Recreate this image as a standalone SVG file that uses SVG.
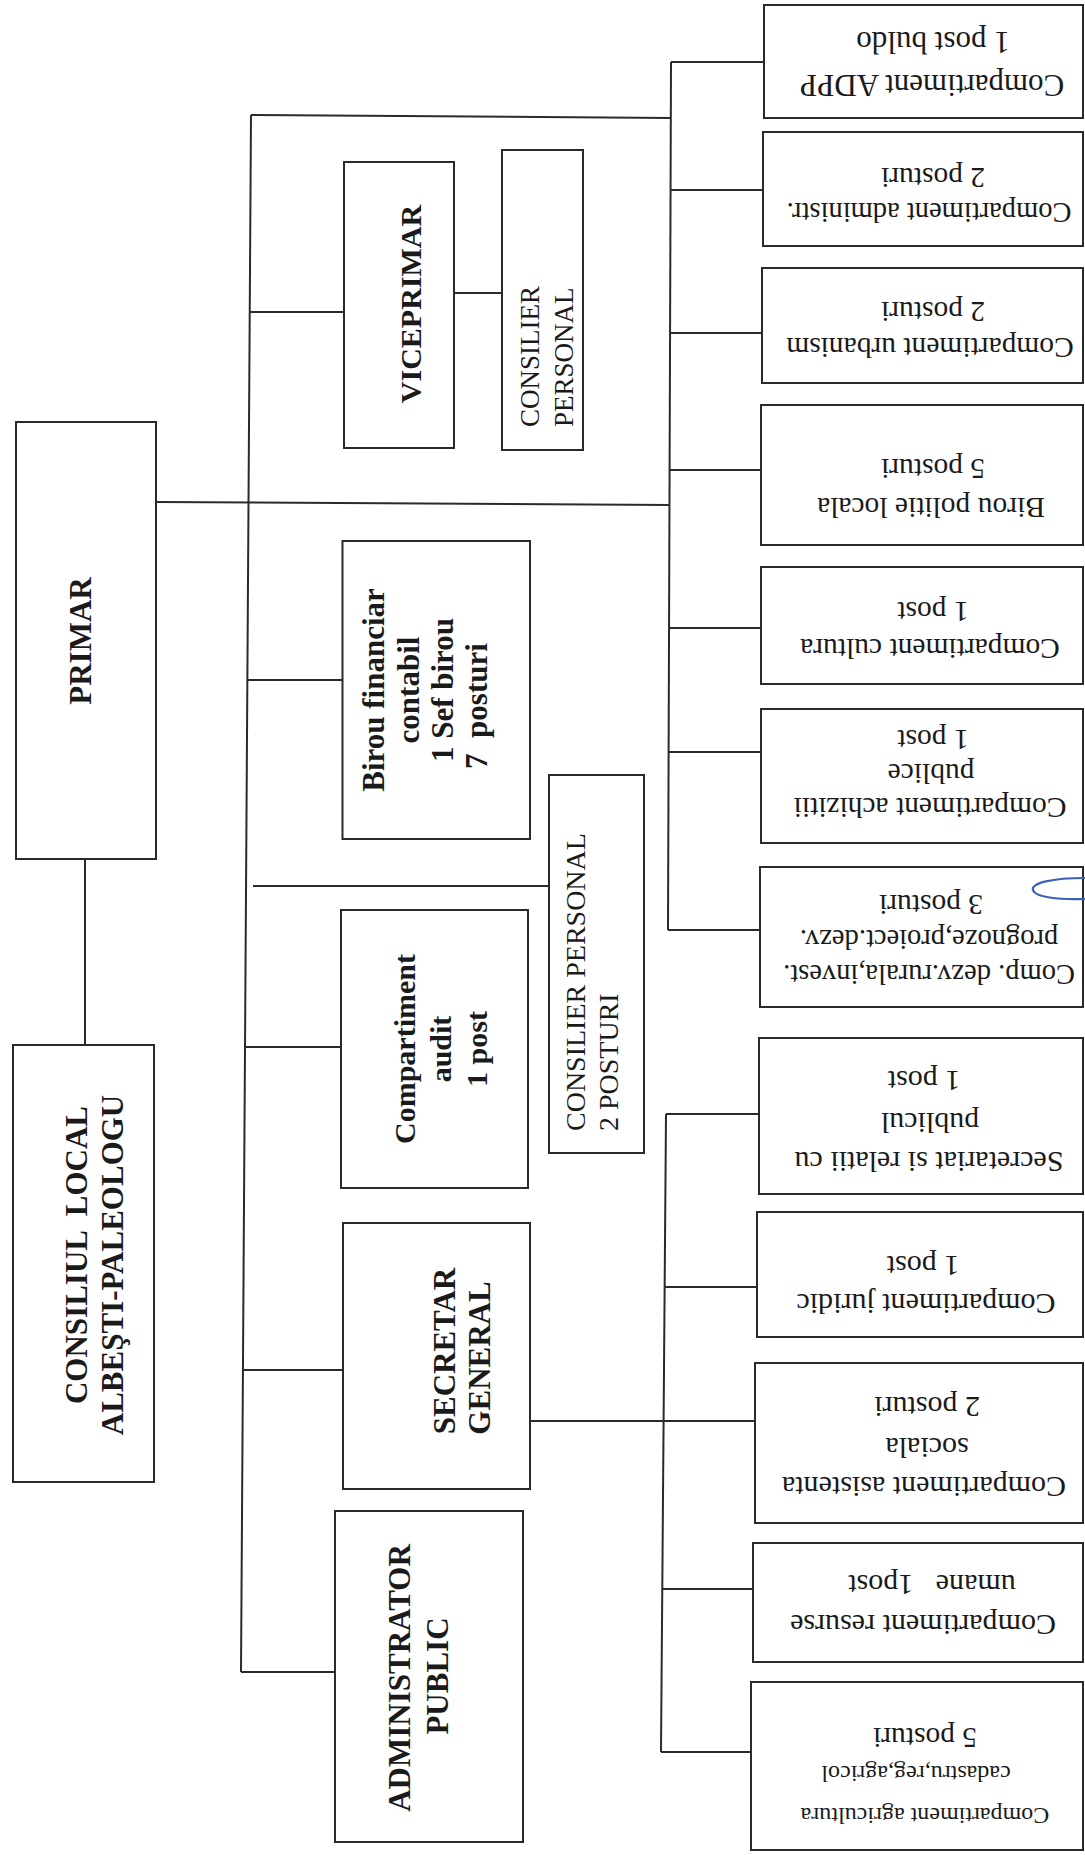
<svg xmlns="http://www.w3.org/2000/svg" width="1085" height="1855" viewBox="0 0 1085 1855">
<style>
.box{fill:#fff;stroke:#2a2a2a;stroke-width:2}
.ln{fill:none;stroke:#2a2a2a;stroke-width:2}
.b{font-family:"Liberation Serif","Times New Roman",serif;font-weight:bold;font-size:31px;fill:#1a1a1a;text-anchor:middle;white-space:pre}
.r{font-family:"Liberation Serif","Times New Roman",serif;font-size:29.5px;fill:#1a1a1a;text-anchor:middle;white-space:pre}
.cp{font-family:"Liberation Serif","Times New Roman",serif;font-size:27px;fill:#1a1a1a;text-anchor:start}
.ink{fill:none;stroke:#3a62b8;stroke-width:2.2}
</style>
<rect width="1085" height="1855" fill="#fff"/>

<g id="connectors">
<path class="ln" d="M251,115 L241,1672"/>
<path class="ln" d="M251,115 L671,118"/>
<path class="ln" d="M671,62 L668,930"/>
<path class="ln" d="M671,62 H764"/>
<path class="ln" d="M671,190 H763"/>
<path class="ln" d="M670,333 H762"/>
<path class="ln" d="M670,470 H761"/>
<path class="ln" d="M670,628 H761"/>
<path class="ln" d="M669,752 H761"/>
<path class="ln" d="M668,930 H760"/>
<path class="ln" d="M156,502 L670,505"/>
<path class="ln" d="M249.7,312 H344"/>
<path class="ln" d="M454,293 H502"/>
<path class="ln" d="M247.4,680 H342"/>
<path class="ln" d="M253,886 H549"/>
<path class="ln" d="M245,1047 H345"/>
<path class="ln" d="M243,1370 H343"/>
<path class="ln" d="M241,1672 H339"/>
<path class="ln" d="M85,859 V1045"/>
<path class="ln" d="M666,1114 L661,1752"/>
<path class="ln" d="M666,1114 H759"/>
<path class="ln" d="M665,1287 H757"/>
<path class="ln" d="M530,1421 H755"/>
<path class="ln" d="M662,1589 H753"/>
<path class="ln" d="M661,1752 H751"/>
</g>

<g id="primar">
<rect class="box" x="16" y="422" width="140" height="437"/>
<text class="b" x="91" y="641" transform="rotate(-90 91 641)">PRIMAR</text>
</g>
<g id="consiliul">
<rect class="box" x="13" y="1045" width="141" height="437"/>
<text class="b" x="87" y="1255" transform="rotate(-90 87 1255)">CONSILIUL  LOCAL</text>
<text class="b" x="122.6" y="1265" transform="rotate(-90 122.6 1265)">ALBEŞTI-PALEOLOGU</text>
</g>
<g id="viceprimar">
<rect class="box" x="344" y="162" width="110" height="286"/>
<text class="b" style="font-size:30px" x="420.6" y="304" transform="rotate(-90 420.6 304)">VICEPRIMAR</text>
</g>
<g id="consilier-personal-1">
<rect class="box" x="502" y="150" width="81" height="300"/>
<text class="cp" x="539" y="427" transform="rotate(-90 539 427)">CONSILIER</text>
<text class="cp" x="573" y="427" transform="rotate(-90 573 427)">PERSONAL</text>
</g>
<g id="birou-financiar">
<rect class="box" x="342.5" y="541" width="187.5" height="298"/>
<text class="b" x="384" y="690" transform="rotate(-90 384 690)">Birou financiar</text>
<text class="b" x="419" y="690" transform="rotate(-90 419 690)">contabil</text>
<text class="b" x="453" y="690" transform="rotate(-90 453 690)">1 Sef birou</text>
<text class="b" x="487" y="706" transform="rotate(-90 487 706)">7  posturi</text>
</g>
<g id="consilier-personal-2">
<rect class="box" x="549" y="775" width="95" height="378"/>
<text class="cp" style="font-size:28px" x="585" y="1131" transform="rotate(-90 585 1131)">CONSILIER PERSONAL</text>
<text class="cp" style="font-size:28px" x="618" y="1131" transform="rotate(-90 618 1131)">2 POSTURI</text>
</g>
<g id="audit">
<rect class="box" x="341" y="910" width="187" height="278"/>
<text class="b" style="font-size:30px" x="415" y="1049" transform="rotate(-90 415 1049)">Compartiment</text>
<text class="b" style="font-size:30px" x="451" y="1049" transform="rotate(-90 451 1049)">audit</text>
<text class="b" style="font-size:30px" x="487" y="1049" transform="rotate(-90 487 1049)">1 post</text>
</g>
<g id="secretar-general">
<rect class="box" x="343" y="1223" width="187" height="266"/>
<text class="b" x="455" y="1351" transform="rotate(-90 455 1351)">SECRETAR</text>
<text class="b" x="490" y="1358" transform="rotate(-90 490 1358)">GENERAL</text>
</g>
<g id="administrator-public">
<rect class="box" x="335" y="1511" width="188" height="331"/>
<text class="b" x="410" y="1678" transform="rotate(-90 410 1678)">ADMINISTRATOR</text>
<text class="b" x="448" y="1676" transform="rotate(-90 448 1676)">PUBLIC</text>
</g>

<g id="comp-adpp">
<rect class="box" x="764" y="5" width="319" height="113"/>
<text class="r" style="font-size:31px" x="932" y="75" transform="rotate(180 932 75)">Compartiment ADPP</text>
<text class="r" style="font-size:31px" x="933" y="32" transform="rotate(180 933 32)">1 post buldo</text>
</g>
<g id="comp-administr">
<rect class="box" x="763" y="132" width="320" height="114"/>
<text class="r" style="font-size:28.5px" x="929" y="203" transform="rotate(180 929 203)">Compartiment administr.</text>
<text class="r" x="933" y="168" transform="rotate(180 933 168)">2 posturi</text>
</g>
<g id="comp-urbanism">
<rect class="box" x="762" y="268" width="321" height="115"/>
<text class="r" x="930" y="338" transform="rotate(180 930 338)">Compartiment urbanism</text>
<text class="r" x="933" y="302" transform="rotate(180 933 302)">2 posturi</text>
</g>
<g id="birou-politie">
<rect class="box" x="761" y="405" width="322" height="140"/>
<text class="r" x="931" y="498" transform="rotate(180 931 498)">Birou politie locala</text>
<text class="r" x="933" y="459" transform="rotate(180 933 459)">5 posturi</text>
</g>
<g id="comp-cultura">
<rect class="box" x="761" y="567" width="322" height="117"/>
<text class="r" x="930" y="639" transform="rotate(180 930 639)">Compartiment cultura</text>
<text class="r" x="933" y="602" transform="rotate(180 933 602)">1 post</text>
</g>
<g id="comp-achizitii">
<rect class="box" x="761" y="709" width="322" height="134"/>
<text class="r" x="930" y="798" transform="rotate(180 930 798)">Compartiment achizitii</text>
<text class="r" x="931" y="764" transform="rotate(180 931 764)">publice</text>
<text class="r" x="933" y="730" transform="rotate(180 933 730)">1 post</text>
</g>
<g id="comp-dezv-rurala">
<rect class="box" x="760" y="867" width="323" height="140"/>
<text class="r" style="font-size:28.5px" x="929" y="965" transform="rotate(180 929 965)">Comp. dezv.rurala,invest.</text>
<text class="r" style="font-size:28.5px" x="929" y="930" transform="rotate(180 929 930)">prognoze,proiect.dezv.</text>
<text class="r" x="931" y="895" transform="rotate(180 931 895)">3 posturi</text>
</g>
<g id="secretariat">
<rect class="box" x="759" y="1038" width="324" height="156"/>
<text class="r" style="font-size:30px" x="929" y="1152" transform="rotate(180 929 1152)">Secretariat si relatii cu</text>
<text class="r" style="font-size:30px" x="930" y="1113" transform="rotate(180 930 1113)">publicul</text>
<text class="r" style="font-size:30px" x="924" y="1071" transform="rotate(180 924 1071)">1 post</text>
</g>
<g id="comp-juridic">
<rect class="box" x="757" y="1212" width="326" height="125"/>
<text class="r" style="font-size:30px" x="926" y="1294" transform="rotate(180 926 1294)">Compartiment juridic</text>
<text class="r" style="font-size:30px" x="923" y="1256" transform="rotate(180 923 1256)">1 post</text>
</g>
<g id="comp-asistenta">
<rect class="box" x="755" y="1363" width="328" height="160"/>
<text class="r" style="font-size:30px" x="924" y="1477" transform="rotate(180 924 1477)">Compartiment asistenta</text>
<text class="r" style="font-size:30px" x="927" y="1438" transform="rotate(180 927 1438)">sociala</text>
<text class="r" style="font-size:30px" x="927" y="1397" transform="rotate(180 927 1397)">2 posturi</text>
</g>
<g id="comp-resurse">
<rect class="box" x="753" y="1543" width="330" height="119"/>
<text class="r" style="font-size:30px" x="923" y="1615" transform="rotate(180 923 1615)">Compartiment resurse</text>
<text class="r" style="font-size:30px" x="932" y="1575" transform="rotate(180 932 1575)">umane   1post</text>
</g>
<g id="comp-agricultura">
<rect class="box" x="751" y="1682" width="332" height="168"/>
<text class="r" style="font-size:24px" x="925" y="1808" transform="rotate(180 925 1808)">Compartiment agricultura</text>
<text class="r" style="font-size:24px" x="916" y="1766" transform="rotate(180 916 1766)">cadastru,reg,agricol</text>
<text class="r" x="925" y="1728" transform="rotate(180 925 1728)">5 posturi</text>
</g>

<path class="ink" d="M1085,878 C1052,878 1031,883 1033,890 C1035,897 1058,900 1085,899"/>
</svg>
